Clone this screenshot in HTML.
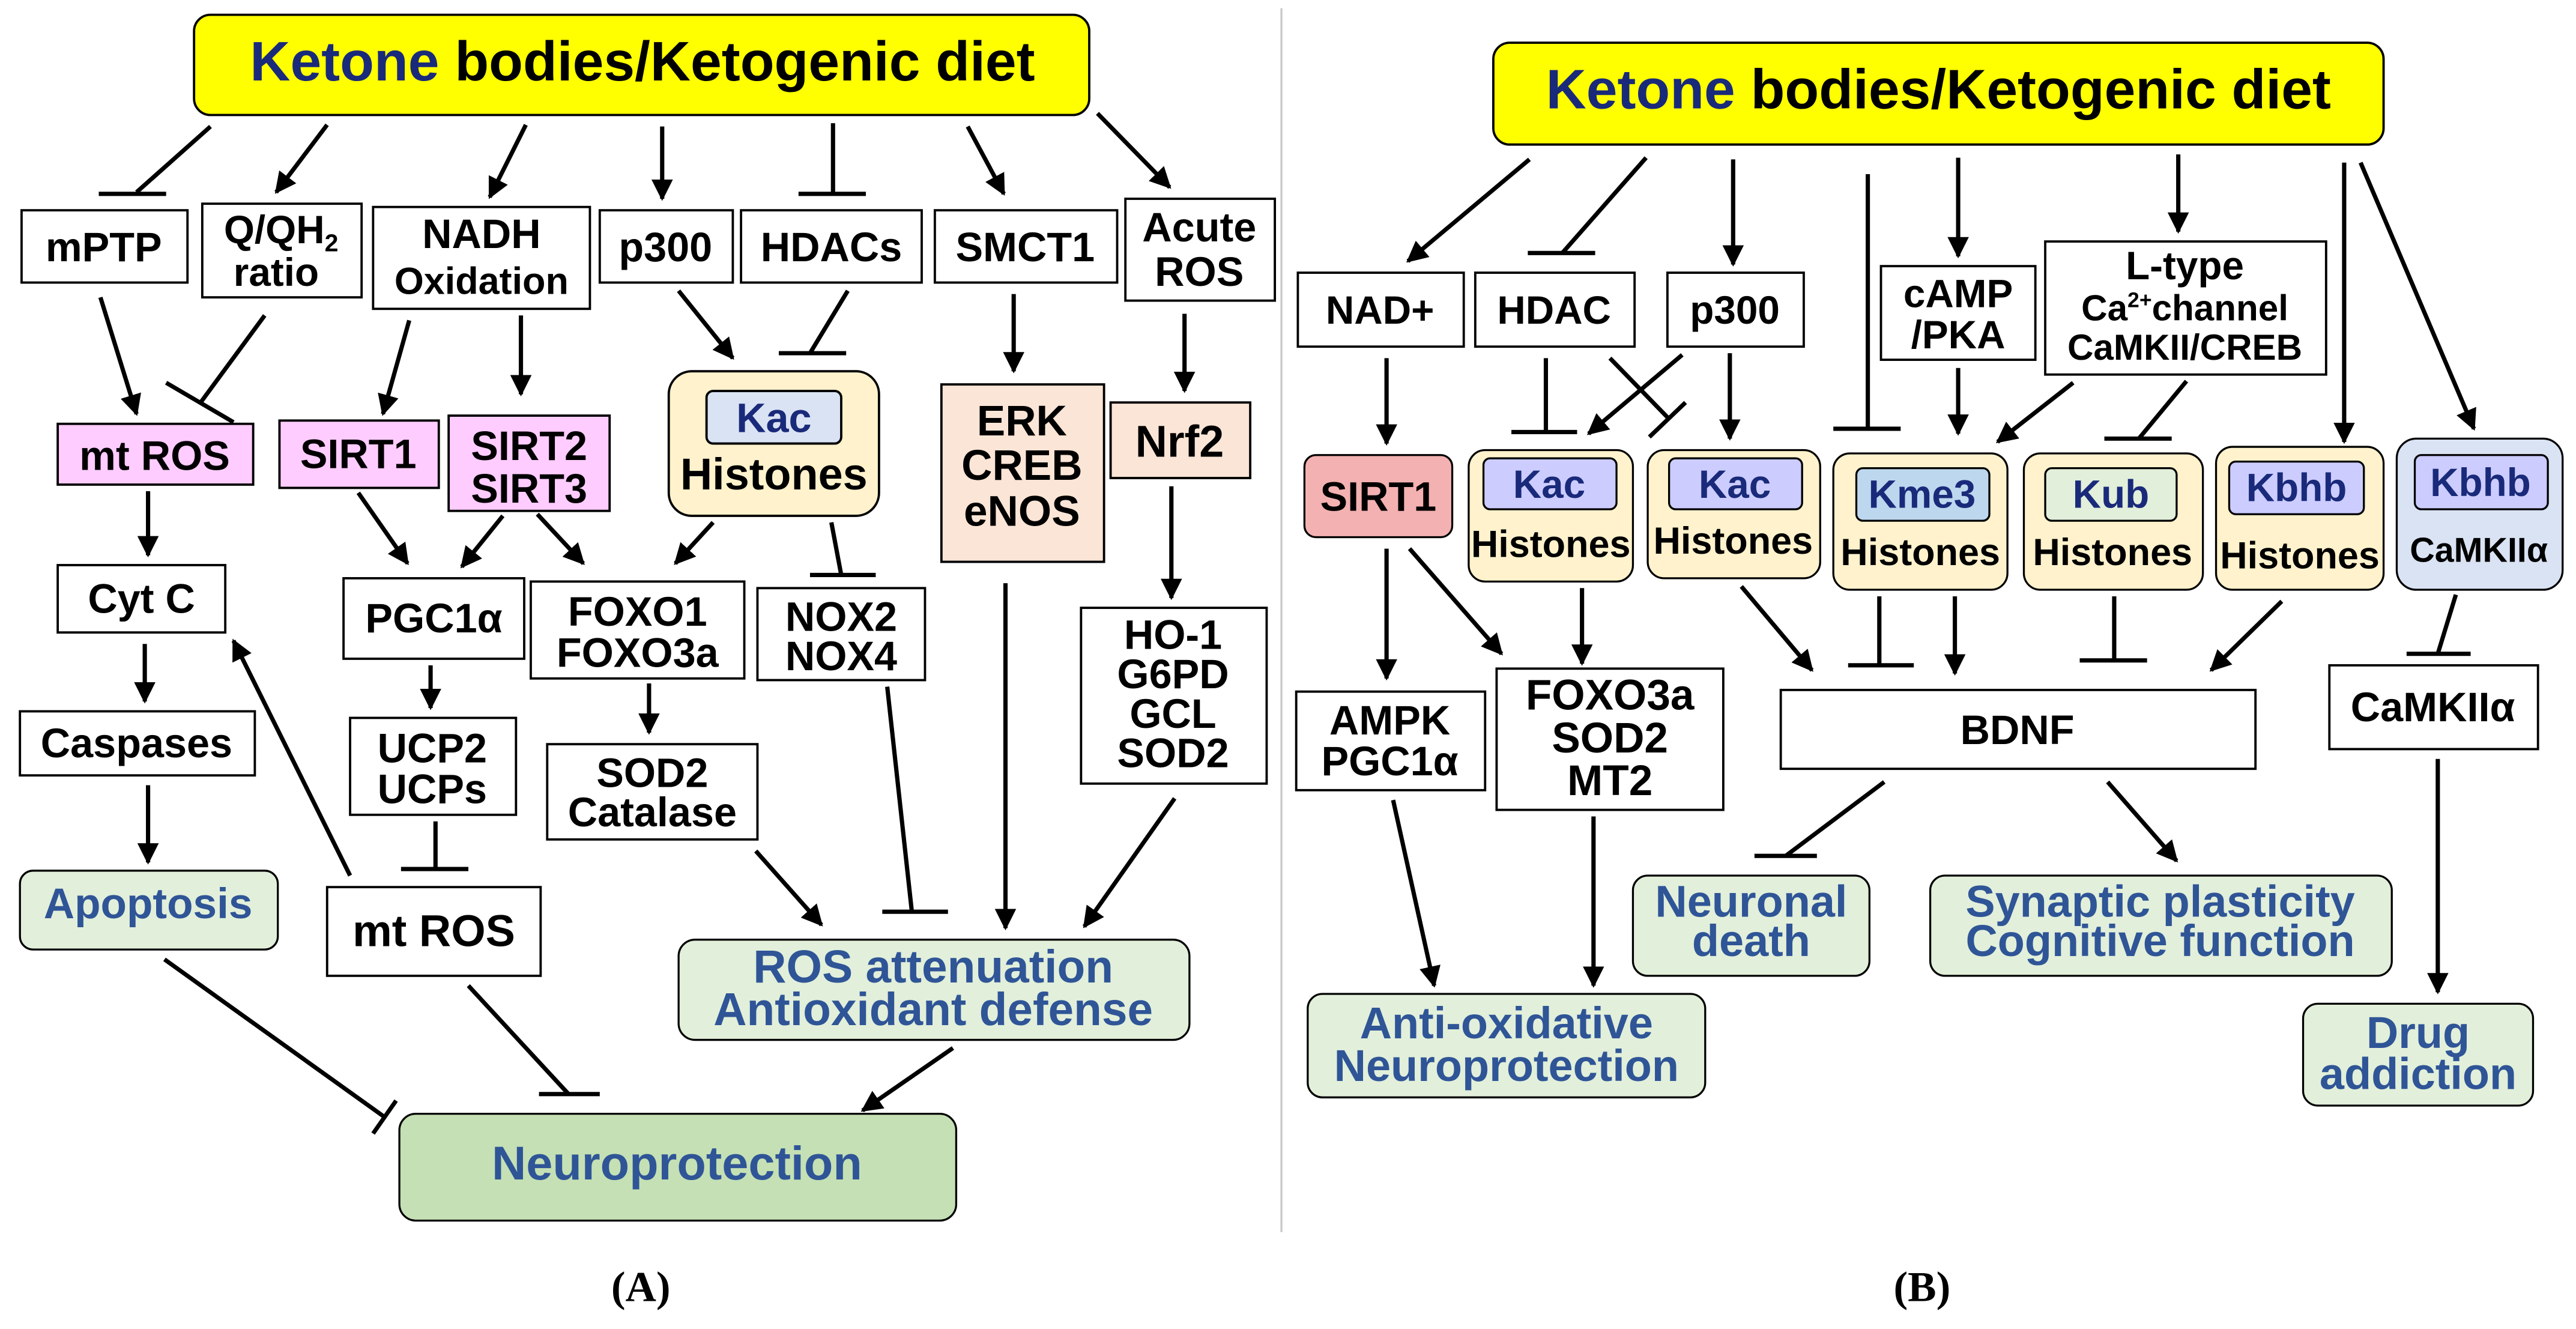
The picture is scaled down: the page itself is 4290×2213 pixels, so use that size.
<!DOCTYPE html>
<html><head><meta charset="utf-8"><style>
html,body{margin:0;padding:0;background:#fff;}
svg{display:block;}
text{font-family:"Liberation Sans",Arial,sans-serif;font-weight:bold;text-anchor:middle;}
.b{fill:#fff;stroke:#000;stroke-width:1.4;}
.l{stroke:#000;stroke-width:2.6;fill:none;}
.a{stroke:#000;stroke-width:2.6;fill:none;marker-end:url(#ah);}
.g{fill:#2f5597;}
.n{fill:#1a2a7a;}
</style></head><body>
<svg width="4290" height="2213" viewBox="0 0 1568 809" xmlns="http://www.w3.org/2000/svg">
<defs>
<marker id="ah" viewBox="0 0 10 10" refX="9" refY="5" markerWidth="13" markerHeight="13" markerUnits="userSpaceOnUse" orient="auto">
<path d="M0,0 L10,5 L0,10 z" fill="#000"/></marker>
</defs>
<rect width="1568" height="809" fill="#fff"/>
<line x1="780" y1="5" x2="780" y2="750" stroke="#c8c8c8" stroke-width="1.2"/>

<!-- ============ PANEL A ============ -->
<rect x="118" y="9" width="545" height="61" rx="10" fill="#ffff00" stroke="#000" stroke-width="1.4"/>
<text x="391" y="49" font-size="34"><tspan class="n">Ketone</tspan> bodies/Ketogenic diet</text>

<line class="l" x1="128" y1="77" x2="83" y2="117"/><line class="l" x1="60" y1="118" x2="101" y2="118"/>
<line class="a" x1="199" y1="76" x2="168" y2="117"/>
<line class="a" x1="320" y1="76" x2="298" y2="120"/>
<line class="a" x1="403" y1="77" x2="403" y2="121"/>
<line class="l" x1="507" y1="75" x2="507" y2="118"/><line class="l" x1="486" y1="118" x2="527" y2="118"/>
<line class="a" x1="589" y1="77" x2="611" y2="118"/>
<line class="a" x1="668" y1="69" x2="712" y2="114"/>

<rect class="b" x="13" y="128" width="101" height="44"/><text x="63" y="159" font-size="25">mPTP</text>
<rect class="b" x="123" y="124" width="97" height="57"/>
<text x="171" y="148" font-size="24">Q/QH<tspan font-size="15" dy="5">2</tspan></text><text x="168" y="174" font-size="24">ratio</text>
<rect class="b" x="227" y="126" width="132" height="62"/><text x="293" y="151" font-size="25">NADH</text><text x="293" y="179" font-size="23">Oxidation</text>
<rect class="b" x="365" y="128" width="81" height="44"/><text x="405" y="159" font-size="25">p300</text>
<rect class="b" x="451" y="128" width="110" height="44"/><text x="506" y="159" font-size="25">HDACs</text>
<rect class="b" x="569" y="128" width="111" height="44"/><text x="624" y="159" font-size="25">SMCT1</text>
<rect class="b" x="685" y="121" width="91" height="62"/><text x="730" y="147" font-size="25">Acute</text><text x="730" y="174" font-size="25">ROS</text>

<line class="a" x1="61" y1="181" x2="83" y2="252"/>
<line class="l" x1="161" y1="192" x2="122" y2="245"/><line class="l" x1="101" y1="233" x2="142" y2="257"/>
<line class="a" x1="249" y1="195" x2="233" y2="252"/>
<line class="a" x1="317" y1="192" x2="317" y2="240"/>
<line class="a" x1="413" y1="177" x2="446" y2="218"/>
<line class="l" x1="516" y1="177" x2="493" y2="215"/><line class="l" x1="474" y1="215" x2="515" y2="215"/>
<line class="a" x1="617" y1="179" x2="617" y2="226"/>
<line class="a" x1="721" y1="191" x2="721" y2="238"/>

<rect class="b" x="35" y="258" width="119" height="37" style="fill:#ffccff"/><text x="94" y="286" font-size="25">mt ROS</text>
<rect class="b" x="170" y="256" width="97" height="41" style="fill:#ffccff"/><text x="218" y="285" font-size="25">SIRT1</text>
<rect class="b" x="273" y="253" width="98" height="58" style="fill:#ffccff"/><text x="322" y="280" font-size="25">SIRT2</text><text x="322" y="306" font-size="25">SIRT3</text>
<rect x="407" y="226" width="128" height="88" rx="14" fill="#fff2cc" stroke="#000" stroke-width="1.4"/>
<rect x="430" y="238" width="82" height="32" rx="4" fill="#dae3f3" stroke="#000" stroke-width="1.4"/><text x="471" y="263" font-size="25" class="n">Kac</text>
<text x="471" y="298" font-size="27">Histones</text>
<rect class="b" x="573" y="234" width="99" height="108" style="fill:#fbe5d6"/>
<text x="622" y="265" font-size="26">ERK</text><text x="622" y="292" font-size="26">CREB</text><text x="622" y="320" font-size="26">eNOS</text>
<rect class="b" x="676" y="245" width="85" height="46" style="fill:#fbe5d6"/><text x="718" y="278" font-size="27">Nrf2</text>

<line class="a" x1="90" y1="299" x2="90" y2="338"/>
<line class="a" x1="218" y1="300" x2="248" y2="343"/>
<line class="a" x1="306" y1="314" x2="281" y2="345"/>
<line class="a" x1="327" y1="313" x2="355" y2="343"/>
<line class="a" x1="434" y1="318" x2="411" y2="343"/>
<line class="l" x1="506" y1="318" x2="512" y2="350"/><line class="l" x1="493" y1="350" x2="533" y2="350"/>
<line class="a" x1="713" y1="296" x2="713" y2="364"/>

<rect class="b" x="35" y="344" width="102" height="41"/><text x="86" y="373" font-size="25">Cyt C</text>
<rect class="b" x="209" y="352" width="110" height="49"/><text x="264" y="385" font-size="25">PGC1α</text>
<rect class="b" x="323" y="354" width="130" height="59"/><text x="388" y="381" font-size="25">FOXO1</text><text x="388" y="406" font-size="25">FOXO3a</text>
<rect class="b" x="461" y="358" width="102" height="56"/><text x="512" y="384" font-size="25">NOX2</text><text x="512" y="408" font-size="25">NOX4</text>
<rect class="b" x="658" y="370" width="113" height="107"/>
<text x="714" y="395" font-size="25">HO-1</text><text x="714" y="419" font-size="25">G6PD</text><text x="714" y="443" font-size="25">GCL</text><text x="714" y="467" font-size="25">SOD2</text>

<line class="a" x1="88" y1="392" x2="88" y2="427"/>
<line class="a" x1="262" y1="405" x2="262" y2="431"/>
<line class="a" x1="395" y1="416" x2="395" y2="446"/>

<rect class="b" x="12" y="433" width="143" height="39"/><text x="83" y="461" font-size="25">Caspases</text>
<rect class="b" x="213" y="437" width="101" height="59"/><text x="263" y="464" font-size="25">UCP2</text><text x="263" y="489" font-size="25">UCPs</text>
<rect class="b" x="333" y="453" width="128" height="58"/><text x="397" y="479" font-size="25">SOD2</text><text x="397" y="503" font-size="25">Catalase</text>

<line class="a" x1="90" y1="478" x2="90" y2="525"/>
<line class="l" x1="265" y1="500" x2="265" y2="529"/><line class="l" x1="244" y1="529" x2="285" y2="529"/>
<line class="a" x1="213" y1="533" x2="142" y2="390"/>
<line class="a" x1="612" y1="355" x2="612" y2="565"/>
<line class="l" x1="540" y1="418" x2="555" y2="555"/><line class="l" x1="537" y1="555" x2="577" y2="555"/>
<line class="a" x1="460" y1="518" x2="500" y2="563"/>
<line class="a" x1="715" y1="486" x2="660" y2="564"/>

<rect x="12" y="530" width="157" height="48" rx="8" fill="#e2efda" stroke="#000" stroke-width="1.2"/><text x="90" y="559" font-size="26" class="g">Apoptosis</text>
<rect class="b" x="199" y="540" width="130" height="54"/><text x="264" y="576" font-size="27">mt ROS</text>
<rect x="413" y="572" width="311" height="61" rx="10" fill="#e2efda" stroke="#000" stroke-width="1.2"/>
<text x="568" y="598" font-size="28" class="g">ROS attenuation</text><text x="568" y="624" font-size="28" class="g">Antioxidant defense</text>

<line class="a" x1="580" y1="638" x2="525" y2="676"/>
<line class="l" x1="100" y1="584" x2="234" y2="680"/><line class="l" x1="227" y1="690" x2="241" y2="670"/>
<line class="l" x1="285" y1="600" x2="346" y2="666"/><line class="l" x1="328" y1="666" x2="365" y2="666"/>

<rect x="243" y="678" width="339" height="65" rx="10" fill="#c5e0b4" stroke="#000" stroke-width="1.2"/>
<text x="412" y="718" font-size="29" class="g">Neuroprotection</text>

<text x="390" y="792" font-size="26" style="font-family:'Liberation Serif',serif">(A)</text>
<text x="1170" y="792" font-size="26" style="font-family:'Liberation Serif',serif">(B)</text>

<!-- ============ PANEL B ============ -->
<rect x="909" y="26" width="542" height="62" rx="10" fill="#ffff00" stroke="#000" stroke-width="1.4"/>
<text x="1180" y="66" font-size="34"><tspan class="n">Ketone</tspan> bodies/Ketogenic diet</text>

<line class="a" x1="931" y1="97" x2="857" y2="159"/>
<line class="l" x1="1002" y1="96" x2="951" y2="154"/><line class="l" x1="930" y1="154" x2="971" y2="154"/>
<line class="a" x1="1055" y1="97" x2="1055" y2="161"/>
<line class="l" x1="1137" y1="106" x2="1137" y2="261"/><line class="l" x1="1116" y1="261" x2="1157" y2="261"/>
<line class="a" x1="1192" y1="96" x2="1192" y2="156"/>
<line class="a" x1="1326" y1="94" x2="1326" y2="141"/>
<line class="a" x1="1427" y1="99" x2="1427" y2="269"/>
<line class="a" x1="1437" y1="99" x2="1506" y2="261"/>

<rect class="b" x="790" y="166" width="101" height="45"/><text x="840" y="197" font-size="24">NAD+</text>
<rect class="b" x="898" y="166" width="97" height="45"/><text x="946" y="197" font-size="24">HDAC</text>
<rect class="b" x="1015" y="166" width="83" height="45"/><text x="1056" y="197" font-size="24">p300</text>
<rect class="b" x="1145" y="162" width="94" height="57"/><text x="1192" y="187" font-size="24">cAMP</text><text x="1192" y="212" font-size="24">/PKA</text>
<rect class="b" x="1245" y="147" width="171" height="81"/>
<text x="1330" y="170" font-size="24">L-type</text>
<text x="1330" y="195" font-size="22">Ca<tspan font-size="13" dy="-8">2+</tspan><tspan dy="8">channel</tspan></text>
<text x="1330" y="219" font-size="22">CaMKII/CREB</text>

<line class="a" x1="844" y1="218" x2="844" y2="270"/>
<line class="l" x1="941" y1="218" x2="941" y2="263"/><line class="l" x1="920" y1="263" x2="960" y2="263"/>
<line class="a" x1="1024" y1="216" x2="967" y2="264"/>
<line class="l" x1="980" y1="218" x2="1015" y2="254"/><line class="l" x1="1004" y1="266" x2="1026" y2="245"/>
<line class="a" x1="1053" y1="215" x2="1053" y2="267"/>
<line class="a" x1="1192" y1="224" x2="1192" y2="264"/>
<line class="a" x1="1262" y1="233" x2="1216" y2="269"/>
<line class="l" x1="1331" y1="232" x2="1302" y2="267"/><line class="l" x1="1281" y1="267" x2="1322" y2="267"/>

<rect x="794" y="277" width="90" height="50" rx="7" fill="#f4b1b1" stroke="#000" stroke-width="1.2"/><text x="839" y="311" font-size="25">SIRT1</text>

<rect x="894" y="274" width="100" height="80" rx="10" fill="#fff2cc" stroke="#000" stroke-width="1.2"/>
<rect x="903" y="279" width="81" height="31" rx="4" fill="#ccccff" stroke="#000" stroke-width="1.2"/><text x="943" y="303" font-size="24" class="n">Kac</text>
<text x="944" y="339" font-size="23">Histones</text>

<rect x="1003" y="274" width="105" height="78" rx="10" fill="#fff2cc" stroke="#000" stroke-width="1.2"/>
<rect x="1016" y="279" width="81" height="31" rx="4" fill="#ccccff" stroke="#000" stroke-width="1.2"/><text x="1056" y="303" font-size="24" class="n">Kac</text>
<text x="1055" y="337" font-size="23">Histones</text>

<rect x="1116" y="276" width="106" height="83" rx="10" fill="#fff2cc" stroke="#000" stroke-width="1.2"/>
<rect x="1130" y="285" width="81" height="32" rx="4" fill="#bdd7ee" stroke="#000" stroke-width="1.2"/><text x="1170" y="309" font-size="24" class="n">Kme3</text>
<text x="1169" y="344" font-size="23">Histones</text>

<rect x="1232" y="276" width="109" height="83" rx="10" fill="#fff2cc" stroke="#000" stroke-width="1.2"/>
<rect x="1245" y="285" width="80" height="32" rx="4" fill="#e2efda" stroke="#000" stroke-width="1.2"/><text x="1285" y="309" font-size="24" class="n">Kub</text>
<text x="1286" y="344" font-size="23">Histones</text>

<rect x="1349" y="272" width="102" height="87" rx="10" fill="#fff2cc" stroke="#000" stroke-width="1.2"/>
<rect x="1357" y="281" width="82" height="32" rx="4" fill="#ccccff" stroke="#000" stroke-width="1.2"/><text x="1398" y="305" font-size="24" class="n">Kbhb</text>
<text x="1400" y="346" font-size="23">Histones</text>

<rect x="1459" y="267" width="101" height="92" rx="12" fill="#dae3f3" stroke="#000" stroke-width="1.2"/>
<rect x="1470" y="277" width="81" height="33" rx="4" fill="#ccccff" stroke="#000" stroke-width="1.2"/><text x="1510" y="302" font-size="24" class="n">Kbhb</text>
<text x="1509" y="342" font-size="21">CaMKIIα</text>

<line class="a" x1="844" y1="334" x2="844" y2="413"/>
<line class="a" x1="858" y1="334" x2="914" y2="398"/>
<line class="a" x1="963" y1="358" x2="963" y2="404"/>
<line class="a" x1="1060" y1="357" x2="1103" y2="408"/>
<line class="l" x1="1144" y1="363" x2="1144" y2="405"/><line class="l" x1="1125" y1="405" x2="1165" y2="405"/>
<line class="a" x1="1190" y1="363" x2="1190" y2="410"/>
<line class="l" x1="1287" y1="363" x2="1287" y2="402"/><line class="l" x1="1266" y1="402" x2="1307" y2="402"/>
<line class="a" x1="1389" y1="366" x2="1346" y2="408"/>
<line class="l" x1="1495" y1="362" x2="1484" y2="398"/><line class="l" x1="1465" y1="398" x2="1504" y2="398"/>

<rect class="b" x="789" y="421" width="115" height="60"/><text x="846" y="447" font-size="25">AMPK</text><text x="846" y="472" font-size="25">PGC1α</text>
<rect class="b" x="911" y="407" width="138" height="86"/>
<text x="980" y="432" font-size="26">FOXO3a</text><text x="980" y="458" font-size="26">SOD2</text><text x="980" y="484" font-size="26">MT2</text>
<rect class="b" x="1084" y="420" width="289" height="48"/><text x="1228" y="453" font-size="25">BDNF</text>
<rect class="b" x="1418" y="405" width="127" height="51"/><text x="1481" y="439" font-size="25">CaMKIIα</text>

<line class="a" x1="848" y1="487" x2="873" y2="600"/>
<line class="a" x1="970" y1="497" x2="970" y2="600"/>
<line class="l" x1="1147" y1="476" x2="1087" y2="521"/><line class="l" x1="1068" y1="521" x2="1106" y2="521"/>
<line class="a" x1="1283" y1="476" x2="1325" y2="524"/>
<line class="a" x1="1484" y1="462" x2="1484" y2="604"/>

<rect x="994" y="533" width="144" height="61" rx="9" fill="#e2efda" stroke="#000" stroke-width="1.2"/>
<text x="1066" y="558" font-size="27" class="g">Neuronal</text><text x="1066" y="582" font-size="27" class="g">death</text>
<rect x="1175" y="533" width="281" height="61" rx="9" fill="#e2efda" stroke="#000" stroke-width="1.2"/>
<text x="1315" y="558" font-size="27" class="g">Synaptic plasticity</text><text x="1315" y="582" font-size="27" class="g">Cognitive function</text>
<rect x="796" y="605" width="242" height="63" rx="9" fill="#e2efda" stroke="#000" stroke-width="1.2"/>
<text x="917" y="632" font-size="27" class="g">Anti-oxidative</text><text x="917" y="658" font-size="27" class="g">Neuroprotection</text>
<rect x="1402" y="611" width="140" height="62" rx="9" fill="#e2efda" stroke="#000" stroke-width="1.2"/>
<text x="1472" y="638" font-size="27" class="g">Drug</text><text x="1472" y="663" font-size="27" class="g">addiction</text>
</svg>
</body></html>
